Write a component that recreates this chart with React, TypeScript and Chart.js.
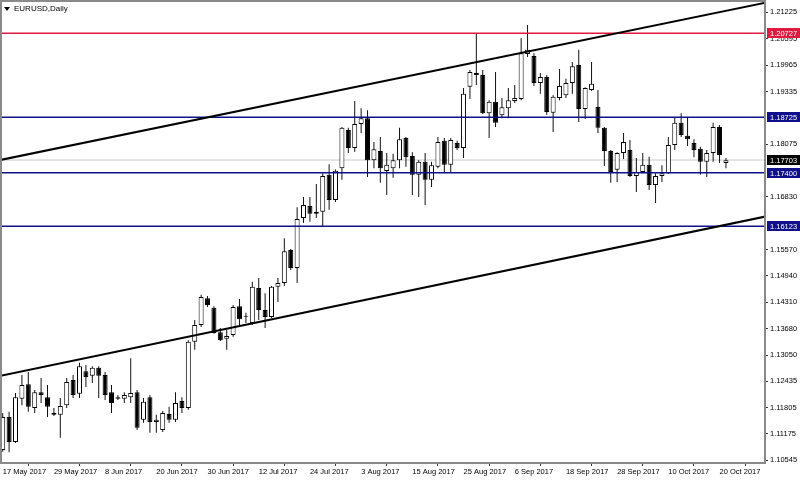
import { useEffect, useRef } from 'react';
import { Chart, registerables } from 'chart.js';

Chart.register(...registerables);

// ---- Data (EURUSD daily, 17 May 2017 .. 23 Oct 2017) ----
const opens = [
  1.1079, 1.1158, 1.1098, 1.1201, 1.1236, 1.1179, 1.1217, 1.1205, 1.1167, 1.1163,
  1.1186, 1.1246, 1.1213, 1.1267, 1.1256, 1.1275, 1.1258, 1.1217, 1.1205, 1.1201,
  1.1205, 1.1217, 1.1151, 1.1205, 1.1146, 1.1127, 1.1165, 1.1151, 1.1196, 1.1179,
  1.1337, 1.1377, 1.1441, 1.1418, 1.1360, 1.1344, 1.1353, 1.1422, 1.1399, 1.1382,
  1.1465, 1.1413, 1.1396, 1.1468, 1.1477, 1.1556, 1.1513, 1.1632, 1.1661, 1.1642,
  1.1647, 1.1735, 1.1675, 1.1751, 1.1842, 1.1799, 1.1856, 1.1870, 1.1770, 1.1792,
  1.1744, 1.1751, 1.1770, 1.1823, 1.1780, 1.1735, 1.1766, 1.1723, 1.1754, 1.1816,
  1.1759, 1.1811, 1.1799, 1.1945, 1.1978, 1.1973, 1.1882, 1.1909, 1.1877, 1.1894,
  1.1911, 1.1916, 1.2023, 1.2018, 1.1954, 1.1968, 1.1883, 1.1918, 1.1925, 1.1954,
  1.1997, 1.1892, 1.1937, 1.1897, 1.1847, 1.1792, 1.1747, 1.1787, 1.1794, 1.1732,
  1.1742, 1.1759, 1.1711, 1.1732, 1.1739, 1.1806, 1.1859, 1.1828, 1.1811, 1.1797,
  1.1766, 1.1787, 1.1849, 1.1763,
];
const highs = [
  1.1167, 1.1170, 1.1215, 1.1258, 1.1265, 1.1222, 1.1251, 1.1234, 1.1179, 1.1203,
  1.1251, 1.1258, 1.1287, 1.1282, 1.1279, 1.1279, 1.1265, 1.1234, 1.1210, 1.1217,
  1.1298, 1.1222, 1.1203, 1.1210, 1.1163, 1.1172, 1.1182, 1.1217, 1.1205, 1.1341,
  1.1389, 1.1449, 1.1446, 1.1422, 1.1370, 1.1365, 1.1425, 1.1439, 1.1406, 1.1480,
  1.1489, 1.1453, 1.1470, 1.1489, 1.1584, 1.1558, 1.1658, 1.1682, 1.1682, 1.1713,
  1.1739, 1.1760, 1.1748, 1.1849, 1.1847, 1.1911, 1.1894, 1.1889, 1.1813, 1.1825,
  1.1787, 1.1785, 1.1847, 1.1825, 1.1789, 1.1770, 1.1787, 1.1766, 1.1825, 1.1823,
  1.1823, 1.1816, 1.1942, 1.1985, 1.2073, 1.1985, 1.1913, 1.1980, 1.1918, 1.1942,
  1.1949, 1.2061, 1.2092, 1.2025, 1.1978, 1.1973, 1.1925, 1.1987, 1.1964, 1.2004,
  1.2033, 1.1944, 1.2004, 1.1937, 1.1849, 1.1794, 1.1789, 1.1835, 1.1818, 1.1775,
  1.1787, 1.1778, 1.1739, 1.1758, 1.1825, 1.1871, 1.1882, 1.1873, 1.1820, 1.1802,
  1.1794, 1.1859, 1.1854, 1.1775,
];
const lows = [
  1.1075, 1.1074, 1.1096, 1.1186, 1.1170, 1.1167, 1.1191, 1.1158, 1.1160, 1.1108,
  1.1179, 1.1203, 1.1203, 1.1229, 1.1239, 1.1203, 1.1198, 1.1167, 1.1198, 1.1191,
  1.1191, 1.1127, 1.1144, 1.1120, 1.1120, 1.1122, 1.1144, 1.1146, 1.1167, 1.1175,
  1.1318, 1.1372, 1.1420, 1.1356, 1.1339, 1.1318, 1.1349, 1.1377, 1.1382, 1.1377,
  1.1389, 1.1370, 1.1394, 1.1432, 1.1470, 1.1508, 1.1477, 1.1620, 1.1623, 1.1632,
  1.1613, 1.1652, 1.1670, 1.1723, 1.1787, 1.1790, 1.1835, 1.1730, 1.1751, 1.1716,
  1.1687, 1.1728, 1.1751, 1.1754, 1.1687, 1.1682, 1.1663, 1.1706, 1.1751, 1.1739,
  1.1742, 1.1794, 1.1775, 1.1916, 1.1949, 1.1880, 1.1823, 1.1849, 1.1870, 1.1870,
  1.1906, 1.1913, 1.2016, 1.1947, 1.1928, 1.1878, 1.1837, 1.1913, 1.1918, 1.1928,
  1.1861, 1.1868, 1.1935, 1.1835, 1.1756, 1.1716, 1.1718, 1.1773, 1.1730, 1.1694,
  1.1739, 1.1699, 1.1668, 1.1718, 1.1737, 1.1794, 1.1825, 1.1804, 1.1777, 1.1735,
  1.1730, 1.1766, 1.1763, 1.1751,
];
const closes = [
  1.1158, 1.1098, 1.1205, 1.1234, 1.1182, 1.1217, 1.1210, 1.1182, 1.1163, 1.1184,
  1.1241, 1.1210, 1.1279, 1.1253, 1.1275, 1.1256, 1.1210, 1.1191, 1.1201, 1.1210,
  1.1215, 1.1132, 1.1194, 1.1146, 1.1151, 1.1167, 1.1151, 1.1191, 1.1179, 1.1337,
  1.1377, 1.1444, 1.1425, 1.1358, 1.1341, 1.1351, 1.1420, 1.1391, 1.1397, 1.1468,
  1.1413, 1.1396, 1.1468, 1.1477, 1.1553, 1.1513, 1.1630, 1.1663, 1.1642, 1.1647,
  1.1732, 1.1675, 1.1745, 1.1847, 1.1799, 1.1856, 1.1870, 1.1770, 1.1796, 1.1751,
  1.1759, 1.1770, 1.1820, 1.1777, 1.1735, 1.1766, 1.1723, 1.1758, 1.1813, 1.1759,
  1.1818, 1.1799, 1.1928, 1.1980, 1.1973, 1.1882, 1.1909, 1.1859, 1.1896, 1.1913,
  1.1918, 1.2025, 1.2033, 1.1954, 1.1968, 1.1885, 1.1921, 1.1947, 1.1954, 1.1994,
  1.1892, 1.1942, 1.1952, 1.1847, 1.1792, 1.1742, 1.1787, 1.1813, 1.1732, 1.1742,
  1.1759, 1.1711, 1.1732, 1.1739, 1.1806, 1.1859, 1.1830, 1.1820, 1.1794, 1.1766,
  1.1787, 1.1849, 1.1782, 1.1770,
];

const dateTickIndex = [0, 8, 16, 24, 32, 40, 48, 56, 64, 72, 80, 88, 96, 104, 112];
const dateTickLabels = [
  '17 May 2017', '29 May 2017', '8 Jun 2017', '20 Jun 2017', '30 Jun 2017',
  '12 Jul 2017', '24 Jul 2017', '3 Aug 2017', '15 Aug 2017', '25 Aug 2017',
  '6 Sep 2017', '18 Sep 2017', '28 Sep 2017', '10 Oct 2017', '20 Oct 2017',
];
const priceTicks = [
  1.21225, 1.20595, 1.19965, 1.19335, 1.18075, 1.1683, 1.1557, 1.1494,
  1.1431, 1.1368, 1.1305, 1.12435, 1.11805, 1.11175, 1.10545,
];

const redLevel = 1.20727;
const blueLevels = [1.18725, 1.174, 1.16123];
const lastPrice = 1.17703;

// trend lines: [index, price] anchors
const upperTrend = [{ x: -1, y: 1.17685 }, { x: 120, y: 1.21478 }];
const lowerTrend = [{ x: -1, y: 1.12538 }, { x: 120, y: 1.16382 }];

const X_MIN = -0.11;
const X_MAX = 119.1;
const Y_MIN = 1.10481;
const Y_MAX = 1.2147;

const RED = '#e0193f';
const NAVY = '#10108a';
const FONT = 'Liberation Sans, Arial, sans-serif';

const overlayPlugin = {
  id: 'overlay',
  afterDraw(chart: any) {
    const { ctx, chartArea, scales } = chart;
    const y = scales.y;
    ctx.save();
    // frame
    ctx.strokeStyle = '#8a8a8a';
    ctx.lineWidth = 2;
    ctx.strokeRect(chartArea.left - 1, chartArea.top - 1, chartArea.right - chartArea.left + 1, chartArea.bottom - chartArea.top + 1);
    // level boxes
    const boxes = [
      { v: redLevel, bg: RED },
      ...blueLevels.map((v) => ({ v, bg: NAVY })),
      { v: lastPrice, bg: '#000' },
    ];
    ctx.font = `7.5px ${FONT}`;
    ctx.textBaseline = 'middle';
    ctx.textAlign = 'left';
    for (const b of boxes) {
      const py = Math.round(y.getPixelForValue(b.v));
      ctx.fillStyle = b.bg;
      ctx.fillRect(chartArea.right + 2, py - 5, chart.width - chartArea.right - 2, 10);
      ctx.fillStyle = '#fff';
      ctx.fillText(b.v.toFixed(5), chartArea.right + 5, py + 0.5);
    }
    // title
    ctx.fillStyle = '#000';
    ctx.beginPath();
    ctx.moveTo(chartArea.left + 2, chartArea.top + 5);
    ctx.lineTo(chartArea.left + 8, chartArea.top + 5);
    ctx.lineTo(chartArea.left + 5, chartArea.top + 9);
    ctx.closePath();
    ctx.fill();
    ctx.font = `8px ${FONT}`;
    ctx.fillStyle = '#000';
    ctx.fillText('EURUSD,Daily', chartArea.left + 12, chartArea.top + 7);
    ctx.restore();
  },
};

export default function App() {
  const ref = useRef<HTMLCanvasElement | null>(null);

  useEffect(() => {
    if (!ref.current) return;
    const idx = closes.map((_, i) => i);
    const bodies = idx.map((i) => ({ x: i, y: [opens[i], closes[i]] }));
    const wicks = idx.map((i) => ({ x: i, y: [lows[i], highs[i]] }));
    const bodyColors = idx.map((i) => (closes[i] >= opens[i] ? '#ffffff' : '#000000'));
    const hLine = (v: number) => [{ x: X_MIN, y: v }, { x: X_MAX, y: v }];

    const lineDs = (data: any, color: string, width: number, order: number) => ({
      type: 'line' as const,
      data,
      borderColor: color,
      borderWidth: width,
      pointRadius: 0,
      fill: false,
      clip: 0,
      order,
    });

    const chart = new Chart(ref.current, {
      type: 'bar',
      data: {
        datasets: [
          lineDs(upperTrend, '#000', 2, 0),
          lineDs(lowerTrend, '#000', 2, 0),
          lineDs(hLine(redLevel), RED, 1.5, 0),
          ...blueLevels.map((v) => lineDs(hLine(v), NAVY, 1.5, 0)),
          lineDs(hLine(lastPrice), '#c8c8c8', 1, 3),
          {
            type: 'bar' as const,
            data: bodies as any,
            backgroundColor: bodyColors,
            borderColor: '#000',
            borderWidth: 1,
            borderSkipped: false,
            barThickness: 5,
            minBarLength: 1,
            grouped: false,
            inflateAmount: 0,
            order: 1,
          },
          {
            type: 'bar' as const,
            data: wicks as any,
            backgroundColor: '#111',
            borderWidth: 0,
            barThickness: 1,
            grouped: false,
            inflateAmount: 0,
            order: 2,
          },
        ] as any,
      },
      options: {
        animation: false,
        responsive: false,
        events: [],
        layout: { padding: { top: 2, left: 2, right: 0, bottom: 0 } },
        plugins: { legend: { display: false }, tooltip: { enabled: false } },
        scales: {
          x: {
            type: 'linear',
            min: X_MIN,
            max: X_MAX,
            offset: false,
            grid: { drawOnChartArea: false, drawTicks: true, tickLength: 3, color: '#333' },
            border: { display: false },
            afterBuildTicks: (s: any) => {
              s.ticks = dateTickIndex.map((v) => ({ value: v }));
            },
            afterFit: (s: any) => {
              s.height = 17;
              s.paddingLeft = 0;
              s.paddingRight = 0;
            },
            ticks: {
              autoSkip: false,
              maxRotation: 0,
              align: 'start',
              padding: 1,
              color: '#000',
              font: { size: 7.5, family: FONT },
              callback: (v: any) => {
                const k = dateTickIndex.indexOf(Number(v));
                return k >= 0 ? dateTickLabels[k] : '';
              },
            },
          },
          y: {
            type: 'linear',
            position: 'right',
            min: Y_MIN,
            max: Y_MAX,
            grid: { drawOnChartArea: false, drawTicks: true, tickLength: 3, color: '#333' },
            border: { display: false },
            afterBuildTicks: (s: any) => {
              s.ticks = priceTicks.map((v) => ({ value: v }));
            },
            afterFit: (s: any) => {
              s.width = 35;
              s.paddingTop = 0;
              s.paddingBottom = 0;
            },
            ticks: {
              padding: 2,
              color: '#000',
              font: { size: 7.5, family: FONT },
              callback: (v: any) => Number(v).toFixed(5),
            },
          },
        },
      } as any,
      plugins: [overlayPlugin],
    });
    return () => chart.destroy();
  }, []);

  return (
    <div style={{ position: 'fixed', left: 0, top: 0, width: 800, height: 480, background: '#fff' }}>
      <canvas ref={ref} width={800} height={480} style={{ display: 'block' }} />
    </div>
  );
}
